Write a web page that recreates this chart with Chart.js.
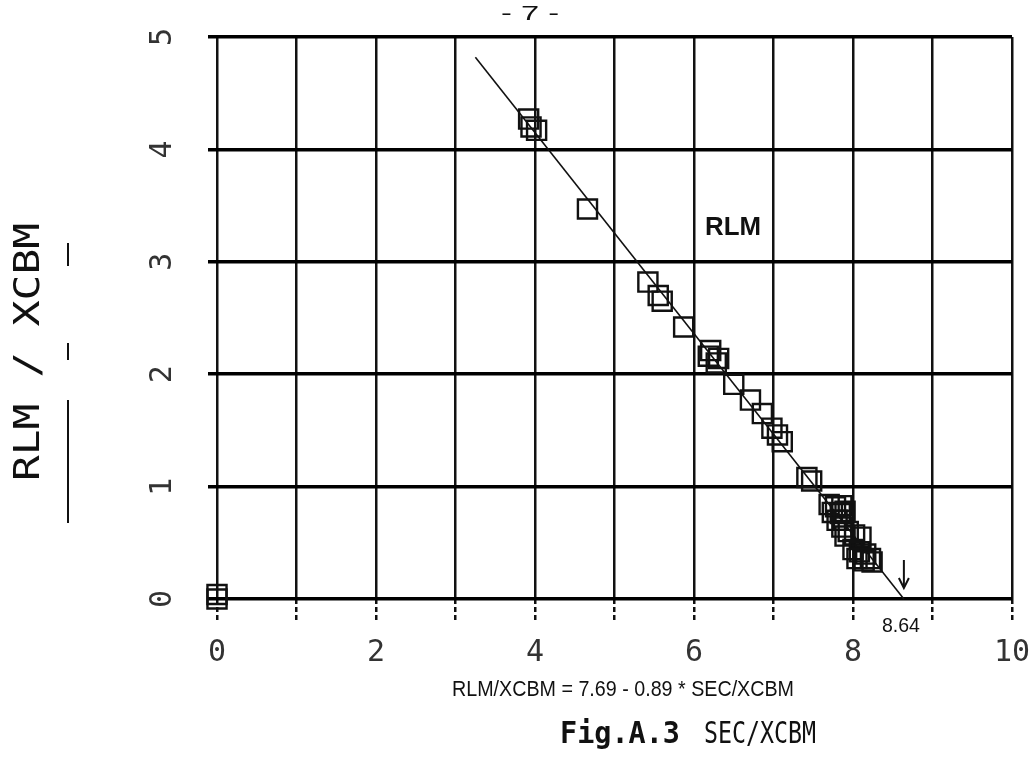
<!DOCTYPE html>
<html><head><meta charset="utf-8">
<script src="https://cdn.jsdelivr.net/npm/chart.js@4.4.1/dist/chart.umd.min.js"></script>
<style>html,body{margin:0;padding:0;background:#fff;} canvas{display:block;}</style>
</head><body>
<canvas id="c" width="1030" height="765"></canvas>
<script>
// ---- data ----
const xTickLabels = ['0', '2', '4', '6', '8', '10'];
const yTickLabels = ['0', '1', '2', '3', '4', '5'];

const secX = [0.00, 0.00, 3.92, 3.95, 4.02, 4.66, 5.42, 5.55, 5.60, 5.87,
  6.21, 6.31, 6.28, 6.18, 6.50, 6.71, 6.86, 6.98, 7.05, 7.11, 7.42, 7.48,
  7.70, 7.78, 7.86, 7.74, 7.84, 7.90, 7.80, 7.88,
  7.86, 7.94, 8.02, 8.10, 7.90, 8.00, 8.08, 8.16, 8.05, 8.14, 8.22, 8.24];
const rlmY = [0.04, 0.00, 4.27, 4.20, 4.17, 3.47, 2.82, 2.70, 2.65, 2.42,
  2.21, 2.14, 2.10, 2.16, 1.91, 1.77, 1.65, 1.52, 1.46, 1.40, 1.08, 1.05,
  0.84, 0.82, 0.83, 0.77, 0.76, 0.78, 0.70, 0.70,
  0.64, 0.60, 0.57, 0.55, 0.56, 0.44, 0.42, 0.40, 0.36, 0.34, 0.36, 0.33];

const fitX = [3.25, 8.64];
const fitY = [4.82, 0.00];

// ---- helpers ----
function fitText(ctx, text, cx, cy, font, targetW, rot) {
  ctx.save();
  ctx.font = font;
  ctx.textAlign = 'center';
  ctx.textBaseline = 'middle';
  const w = ctx.measureText(text).width;
  ctx.translate(cx, cy);
  if (rot) ctx.rotate(rot);
  if (targetW) ctx.scale(targetW / w, 1);
  ctx.fillText(text, 0, 0);
  ctx.restore();
}

const annotations = {
  id: 'annotations',
  afterDraw(chart) {
    const ctx = chart.ctx;
    const xs = chart.scales.x, ys = chart.scales.y;
    ctx.save();
    ctx.fillStyle = '#111';
    ctx.strokeStyle = '#111';
    // page number
    fitText(ctx, '- 7 -', 530, 14, '20px "Liberation Sans"', 58);
    // y axis title (rotated)
    fitText(ctx, 'RLM / XCBM', 30, 352, '36px "DejaVu Sans Mono"', 258, -Math.PI / 2);
    // underline next to the y title
    ctx.lineWidth = 2;
    [[243, 266], [343, 360], [400, 523]].forEach(([a, b]) => {
      ctx.beginPath(); ctx.moveTo(68, a); ctx.lineTo(68, b); ctx.stroke();
    });
    // RLM label near the fitted line
    fitText(ctx, 'RLM', xs.getPixelForValue(6.49), ys.getPixelForValue(3.30),
      'bold 26px "Liberation Sans"', 56);
    // intercept value and arrow
    const xi = xs.getPixelForValue(8.64);
    fitText(ctx, '8.64', xi - 3, 626, '21px "Liberation Sans"', 38);
    ctx.lineWidth = 2;
    ctx.beginPath(); ctx.moveTo(xi, 560); ctx.lineTo(xi, 587); ctx.stroke();
    ctx.beginPath(); ctx.moveTo(xi - 5, 578); ctx.lineTo(xi, 588); ctx.lineTo(xi + 5, 578); ctx.stroke();
    // regression equation
    fitText(ctx, 'RLM/XCBM = 7.69 - 0.89 * SEC/XCBM', 623, 690, '22px "Liberation Sans"', 342);
    // figure caption
    fitText(ctx, 'Fig.A.3', 620, 735, 'bold 30px "DejaVu Sans Mono"', 120);
    fitText(ctx, 'SEC/XCBM', 760, 735, '30px "DejaVu Sans Mono"', 112);
    ctx.restore();
  }
};

new Chart(document.getElementById('c'), {
  type: 'scatter',
  data: {
    datasets: [
      {
        label: 'fit',
        type: 'line',
        data: fitX.map((x, i) => ({ x, y: fitY[i] })),
        borderColor: '#111',
        borderWidth: 1.6,
        pointRadius: 0,
        fill: false,
        clip: false,
        order: 2
      },
      {
        label: 'RLM',
        data: secX.map((x, i) => ({ x, y: rlmY[i] })),
        pointStyle: 'rect',
        pointRadius: 13.5,
        borderColor: '#111',
        borderWidth: 2.4,
        backgroundColor: 'rgba(0,0,0,0)',
        clip: false,
        order: 1
      }
    ]
  },
  options: {
    responsive: false,
    devicePixelRatio: 1,
    animation: false,
    events: [],
    layout: { padding: { top: 37, right: 18, bottom: 0, left: 0 } },
    plugins: { legend: { display: false }, tooltip: { enabled: false } },
    scales: {
      x: {
        type: 'linear', min: 0, max: 10,
        border: { display: false },
        grid: {
          color: '#111', lineWidth: 2.5, borderDash: [5, 3],
          drawTicks: true, tickLength: 22, tickColor: '#111', tickWidth: 2.5, tickBorderDash: [5, 3]
        },
        ticks: {
          stepSize: 1, autoSkip: false, maxRotation: 0, padding: 14,
          color: '#333', font: { family: 'DejaVu Sans Mono', size: 30 },
          callback: v => xTickLabels.includes(String(v)) ? String(v) : ''
        },
        afterFit(s) { s.height = 166; s.paddingLeft = 0; s.paddingRight = 0; }
      },
      y: {
        type: 'linear', min: 0, max: 5,
        border: { display: false },
        grid: {
          color: '#000', lineWidth: 3.5,
          drawTicks: true, tickLength: 9, tickColor: '#000', tickWidth: 3.5
        },
        ticks: {
          stepSize: 1, autoSkip: false, minRotation: 90, maxRotation: 90,
          crossAlign: 'center', padding: 36,
          color: '#333', font: { family: 'DejaVu Sans Mono', size: 30 },
          callback: v => yTickLabels[Math.round(v)] ?? ''
        },
        afterFit(s) { s.width = 217; s.paddingTop = 0; s.paddingBottom = 0; }
      }
    }
  },
  plugins: [annotations]
});
</script>
</body></html>
